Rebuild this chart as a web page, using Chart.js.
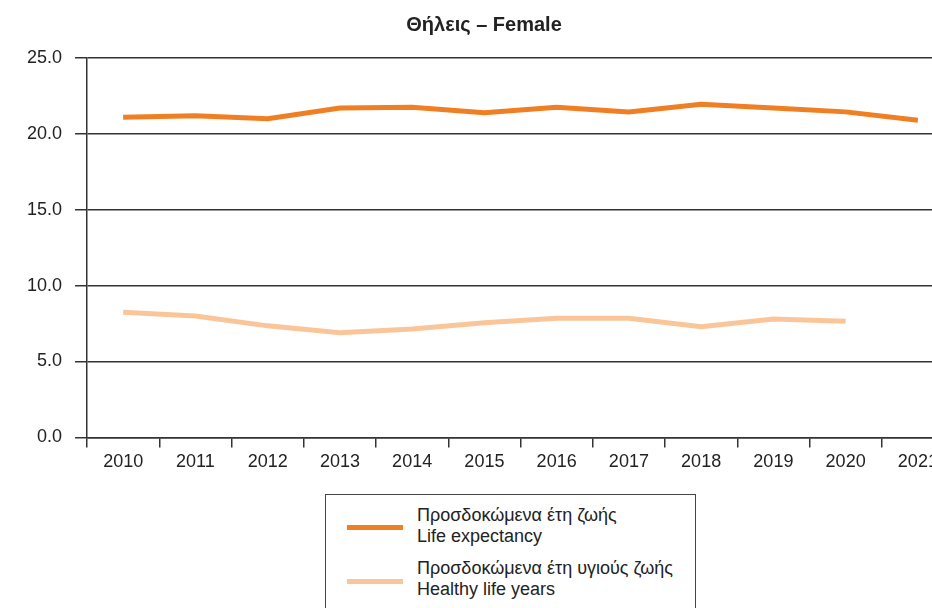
<!DOCTYPE html>
<html lang="el">
<head>
    <meta charset="UTF-8">
    <title>Θήλεις – Female</title>
    <script src="https://cdn.jsdelivr.net/npm/chart.js"></script>
    <style>
        html, body {
            margin: 0;
            padding: 0;
            background: #fff;
            width: 932px;
            height: 608px;
            overflow: hidden;
            font-family: "Liberation Sans", Arial, sans-serif;
        }
        .chart-box {
            position: absolute;
            left: 0;
            top: 0;
            width: 960px;
            height: 480px;
        }
        .legend-box {
            position: absolute;
            left: 325px;
            top: 494px;
            width: 371px;
            height: 140px;
            border: 1.5px solid #444;
            box-sizing: border-box;
            color: #222;
            font-size: 18px;
            line-height: 21px;
        }
        .legend-item {
            position: absolute;
            left: 91px;
        }
        .legend-line {
            position: absolute;
            left: 21px;
            width: 56px;
            height: 5px;
        }
    </style>
</head>
<body>

<div class="chart-box">
    <canvas id="chart"></canvas>
</div>

<div class="legend-box">
    <div class="legend-line" style="top:30px; background:#F07F24;"></div>
    <div class="legend-item" style="top:10px;">Προσδοκώμενα έτη ζωής<br>Life expectancy</div>
    <div class="legend-line" style="top:84px; background:#FAC699;"></div>
    <div class="legend-item" style="top:63px;">Προσδοκώμενα έτη υγιούς ζωής<br>Healthy life years</div>
</div>

<script>
    // Έτη
    const years = ['2010', '2011', '2012', '2013', '2014', '2015', '2016', '2017', '2018', '2019', '2020', '2021'];
    // Προσδοκώμενα έτη ζωής
    const lifeExpectancy = [21.1, 21.2, 21.0, 21.7, 21.75, 21.4, 21.75, 21.45, 21.95, 21.7, 21.45, 20.9];
    // Προσδοκώμενα έτη υγιούς ζωής (χωρίς 2021)
    const healthyYears = [8.25, 8.0, 7.35, 6.9, 7.15, 7.55, 7.85, 7.85, 7.3, 7.8, 7.65, null];
    const yTicks = [0, 5, 10, 15, 20, 25];

    const axisColor = '#333';
    const tickFont = { family: '"Liberation Sans", Arial, sans-serif', size: 18 };

    new Chart(document.getElementById('chart'), {
        type: 'line',
        data: {
            labels: years,
            datasets: [
                {
                    label: 'Life expectancy',
                    data: lifeExpectancy,
                    borderColor: '#F07F24',
                    borderWidth: 5,
                    pointRadius: 0,
                    tension: 0
                },
                {
                    label: 'Healthy life years',
                    data: healthyYears,
                    borderColor: '#FAC699',
                    borderWidth: 5,
                    pointRadius: 0,
                    tension: 0
                }
            ]
        },
        options: {
            responsive: true,
            maintainAspectRatio: false,
            animation: false,
            layout: { padding: { left: 14, right: 6, top: 0, bottom: 3 } },
            plugins: {
                legend: { display: false },
                tooltip: { enabled: false },
                title: {
                    display: true,
                    text: 'Θήλεις – Female',
                    color: '#222',
                    font: { family: '"Liberation Sans", Arial, sans-serif', size: 20, weight: 'bold' },
                    padding: { top: 13, bottom: 21 }
                }
            },
            scales: {
                x: {
                    offset: true,
                    grid: {
                        offset: true,
                        drawOnChartArea: false,
                        drawTicks: true,
                        tickLength: 10,
                        color: axisColor,
                        lineWidth: 1.5
                    },
                    border: { display: true, color: axisColor, width: 1.5 },
                    ticks: { color: '#222', font: tickFont, padding: 4, maxRotation: 0, autoSkip: false }
                },
                y: {
                    min: 0,
                    max: 25,
                    afterBuildTicks: axis => { axis.ticks = yTicks.map(v => ({ value: v })); },
                    grid: {
                        color: axisColor,
                        lineWidth: 1.5,
                        tickLength: 12
                    },
                    border: { display: true, color: axisColor, width: 1.5 },
                    ticks: {
                        color: '#222',
                        font: tickFont,
                        padding: 13,
                        callback: v => Number(v).toFixed(1)
                    }
                }
            }
        }
    });
</script>

</body>
</html>
